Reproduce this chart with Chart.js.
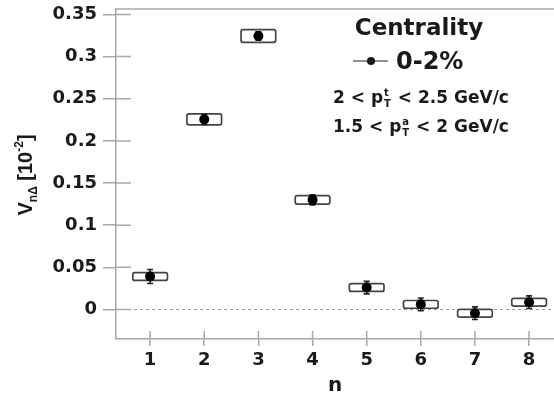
<!DOCTYPE html>
<html><head><meta charset="utf-8">
<script src="https://cdn.jsdelivr.net/npm/chart.js@4"></script>
<style>html,body{margin:0;padding:0;background:#fff;}#c{display:block;}</style>
</head><body>
<div style="width:554px;height:393px;position:relative"><canvas id="c" width="554" height="393"></canvas></div>
<script>
// ---- data ----
const harmonics = [1, 2, 3, 4, 5, 6, 7, 8];
const vnDelta   = [0.039, 0.2255, 0.3245, 0.130, 0.026, 0.006, -0.0045, 0.0086];
const statErr   = [0.0083, 0.006, 0.005, 0.006, 0.0075, 0.0075, 0.0075, 0.0075];
const sysErr    = [0.0046, 0.0065, 0.0075, 0.005, 0.0046, 0.0046, 0.0046, 0.0046];
const yTickValues = [0, 0.05, 0.1, 0.15, 0.2, 0.25, 0.3, 0.35];
const xTickValues = [1, 2, 3, 4, 5, 6, 7, 8];
const legendTitle = 'Centrality';
const seriesLabel = '0-2%';
const xTitle = 'n';

const AX = '#a8a8a8';
const FONT = '"DejaVu Sans", sans-serif';

const extras = {
  id: 'extras',
  beforeDatasetsDraw(chart) {
    const {ctx, chartArea: a, scales: {x, y}} = chart;
    ctx.save();
    ctx.strokeStyle = '#9a9a9a'; ctx.lineWidth = 1; ctx.setLineDash([3, 3]);
    const y0 = Math.round(y.getPixelForValue(0)) + 0.5;
    ctx.beginPath(); ctx.moveTo(a.left, y0); ctx.lineTo(a.right, y0); ctx.stroke();
    ctx.setLineDash([]);
    const halfW = 0.32;
    harmonics.forEach((n, i) => {
      const xl = x.getPixelForValue(n - halfW), xr = x.getPixelForValue(n + halfW);
      const yt = y.getPixelForValue(vnDelta[i] + sysErr[i]), yb = y.getPixelForValue(vnDelta[i] - sysErr[i]);
      ctx.fillStyle = '#fff'; ctx.strokeStyle = '#444'; ctx.lineWidth = 1.7;
      ctx.beginPath(); ctx.roundRect(xl, yt, xr - xl, yb - yt, 2); ctx.fill(); ctx.stroke();
      const xc = x.getPixelForValue(n);
      const et = y.getPixelForValue(vnDelta[i] + statErr[i]), eb = y.getPixelForValue(vnDelta[i] - statErr[i]);
      ctx.strokeStyle = '#222'; ctx.lineWidth = 1.6;
      ctx.beginPath();
      ctx.moveTo(xc, et); ctx.lineTo(xc, eb);
      ctx.moveTo(xc - 3, et); ctx.lineTo(xc + 3, et);
      ctx.moveTo(xc - 3, eb); ctx.lineTo(xc + 3, eb);
      ctx.stroke();
    });
    ctx.restore();
  },
  afterDraw(chart) {
    const {ctx, chartArea: a, scales: {x, y}} = chart;
    ctx.save();
    ctx.strokeStyle = AX; ctx.lineWidth = 1.5;
    ctx.beginPath(); ctx.moveTo(a.left, a.top); ctx.lineTo(a.right, a.top); ctx.stroke();
    ctx.beginPath();
    y.ticks.forEach(t => { const p = y.getPixelForValue(t.value); ctx.moveTo(a.left, p); ctx.lineTo(a.left + 15, p); });
    x.ticks.forEach(t => { const p = x.getPixelForValue(t.value); ctx.moveTo(p, a.bottom); ctx.lineTo(p, a.bottom - 8); });
    ctx.stroke();

    ctx.fillStyle = '#1a1a1a';
    ctx.textBaseline = 'alphabetic';
    ctx.font = 'bold 23px ' + FONT; ctx.textAlign = 'center';
    ctx.fillText(legendTitle, 419, 35);
    ctx.strokeStyle = '#222'; ctx.lineWidth = 1.2;
    ctx.beginPath(); ctx.moveTo(353, 61); ctx.lineTo(388, 61); ctx.stroke();
    ctx.beginPath(); ctx.arc(371, 61, 4, 0, Math.PI * 2); ctx.fill();
    ctx.textAlign = 'left'; ctx.font = 'bold 24px ' + FONT;
    ctx.fillText(seriesLabel, 396, 69);

    const drawRange = (pre, sup, post, x0, yb) => {
      ctx.font = 'bold 17px ' + FONT; ctx.textAlign = 'left';
      ctx.fillText(pre, x0, yb);
      let xx = x0 + ctx.measureText(pre).width + 1;
      ctx.font = 'bold 10px ' + FONT;
      ctx.fillText(sup, xx, yb - 7);
      ctx.fillText('T', xx, yb + 4);
      xx += Math.max(ctx.measureText(sup).width, ctx.measureText('T').width) + 1;
      ctx.font = 'bold 17px ' + FONT;
      ctx.fillText(post, xx, yb);
    };
    drawRange('2 < p', 't', ' < 2.5 GeV/c', 333, 103);
    drawRange('1.5 < p', 'a', ' < 2 GeV/c', 333, 132);

    ctx.save();
    ctx.translate(25, 175); ctx.rotate(-Math.PI / 2);
    const parts = [
      {t: 'V', f: 'bold 20px "Liberation Sans", sans-serif', dy: 0},
      {t: 'nΔ', f: 'bold 12px "Liberation Sans", sans-serif', dy: 5},
      {t: ' [10', f: 'bold 20px "Liberation Sans", sans-serif', dy: 0},
      {t: '-2', f: 'bold 12px "Liberation Sans", sans-serif', dy: -9},
      {t: ']', f: 'bold 20px "Liberation Sans", sans-serif', dy: 0},
    ];
    let tw = 0;
    parts.forEach(p => { ctx.font = p.f; tw += ctx.measureText(p.t).width; });
    let cx = -tw / 2;
    ctx.textAlign = 'left';
    parts.forEach(p => { ctx.font = p.f; ctx.fillText(p.t, cx, 7 + p.dy); cx += ctx.measureText(p.t).width; });
    ctx.restore();
    ctx.restore();
  }
};

new Chart(document.getElementById('c'), {
  type: 'scatter',
  data: {
    datasets: [{
      label: seriesLabel,
      data: harmonics.map((n, i) => ({x: n, y: vnDelta[i]})),
      pointRadius: 5, pointHoverRadius: 5,
      backgroundColor: '#000', borderColor: '#000', borderWidth: 0
    }]
  },
  options: {
    responsive: false, animation: false, devicePixelRatio: 1,
    layout: {autoPadding: false, padding: {top: 9, left: 0, right: 0, bottom: 0}},
    plugins: {legend: {display: false}, tooltip: {enabled: false}},
    scales: {
      x: {
        type: 'linear', min: 0.37, max: 8.46,
        afterBuildTicks: s => { s.ticks = xTickValues.map(v => ({value: v})); },
        afterFit: s => { s.height = 54; s.paddingRight = 0; s.paddingLeft = 0; },
        grid: {display: true, drawOnChartArea: false, drawTicks: true, tickLength: 7, color: AX, lineWidth: 1.5},
        border: {display: true, color: AX, width: 1.5},
        ticks: {font: {family: FONT, weight: 'bold', size: 18}, color: '#1a1a1a', padding: 4, maxRotation: 0, callback: v => String(v)},
        title: {display: true, text: xTitle, font: {family: FONT, weight: 'bold', size: 20}, color: '#1a1a1a', padding: {top: 0, bottom: -5}}
      },
      y: {
        type: 'linear', min: -0.0351, max: 0.3565,
        afterBuildTicks: s => { s.ticks = yTickValues.map(v => ({value: v})); },
        afterFit: s => { s.width = 116; s.paddingTop = 0; s.paddingBottom = 0; },
        grid: {display: true, drawOnChartArea: false, drawTicks: true, tickLength: 13, color: AX, lineWidth: 1.5},
        border: {display: true, color: AX, width: 1.5},
        ticks: {font: {family: FONT, weight: 'bold', size: 18}, color: '#1a1a1a', padding: 6, callback: v => String(+v.toFixed(2))}
      }
    }
  },
  plugins: [extras]
});
</script>
</body></html>
